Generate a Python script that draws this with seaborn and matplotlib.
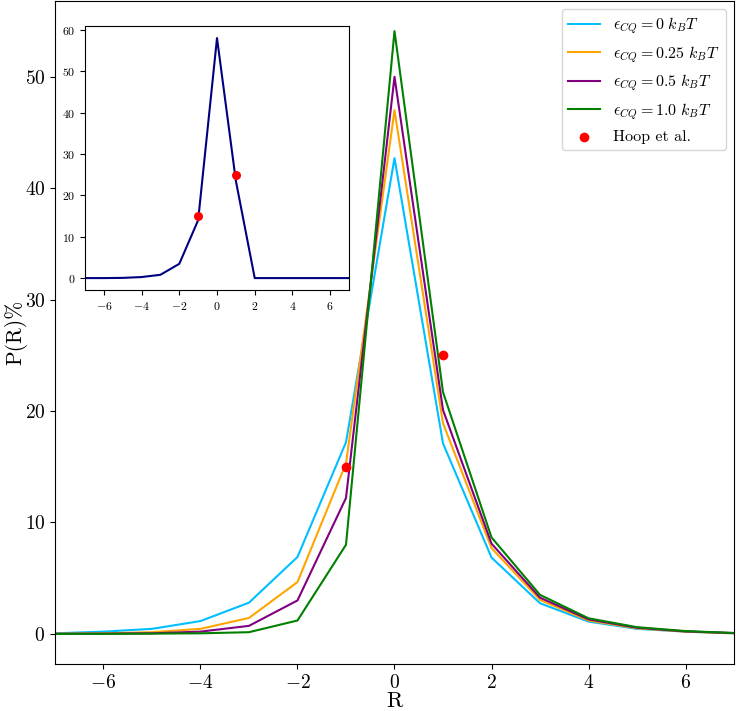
import numpy as np
import pandas as pd
import seaborn as sns
import matplotlib.pyplot as plt

# data
R = [-7, -6, -5, -4, -3, -2, -1, 0, 1, 2, 3, 4, 5, 6, 7]

p_eps0 = [0.05, 0.2, 0.45, 1.15, 2.8, 6.9, 17.2, 42.7, 17.1, 6.85, 2.75, 1.1, 0.45, 0.2, 0.05]
p_eps025 = [0.02, 0.05, 0.15, 0.45, 1.43, 4.65, 15.3, 47.0, 18.9, 7.7, 3.05, 1.2, 0.5, 0.2, 0.05]
p_eps05 = [0.0, 0.02, 0.05, 0.2, 0.72, 3.0, 12.2, 50.0, 20.1, 8.1, 3.25, 1.3, 0.55, 0.22, 0.07]
p_eps1 = [0.0, 0.0, 0.02, 0.05, 0.15, 1.2, 8.0, 54.1, 21.7, 8.66, 3.5, 1.4, 0.6, 0.25, 0.08]

eps_labels = [r'$\epsilon_{CQ} = 0\ k_BT$', r'$\epsilon_{CQ} = 0.25\ k_BT$',
              r'$\epsilon_{CQ} = 0.5\ k_BT$', r'$\epsilon_{CQ} = 1.0\ k_BT$']
colors = ['deepskyblue', 'orange', 'purple', 'green']

# inset curve
p_inset = [0.0, 0.0, 0.05, 0.25, 0.8, 3.45, 14.0, 58.0, 23.5, 0.0, 0.0, 0.0, 0.0, 0.0, 0.0]

# Hoop et al. points
hoop_R = [-1, 1]
hoop_P = [15, 25]

plt.rcParams['mathtext.fontset'] = 'cm'
plt.rcParams['font.family'] = 'serif'
plt.rcParams['font.serif'] = ['cmr10', 'DejaVu Serif']
plt.rcParams['axes.formatter.use_mathtext'] = True
plt.rcParams['axes.unicode_minus'] = True

rows = []
for lab, vals in zip(eps_labels, [p_eps0, p_eps025, p_eps05, p_eps1]):
    for r, v in zip(R, vals):
        rows.append({'R': r, 'P': v, 'eps': lab})
df = pd.DataFrame(rows)

fig = plt.figure(figsize=(7.36, 7.11), dpi=100)
ax = fig.add_axes([0.0747, 0.0661, 0.9226, 0.9325])

sns.lineplot(data=df, x='R', y='P', hue='eps', hue_order=eps_labels,
             palette=colors, linewidth=1.5, ax=ax)
ax.scatter(hoop_R, hoop_P, color='red', s=36, zorder=5, label='Hoop et al.')
ax.set_xlim(-7, 7)
ax.set_xlabel('R', fontsize=16, labelpad=0)
ax.set_ylabel('P(R)%', fontsize=15.5)
ax.yaxis.set_label_coords(-0.04, 0.5)
ax.tick_params(labelsize=14)

handles, labels = ax.get_legend_handles_labels()
ax.legend(handles, labels, loc='upper right', fontsize=11.5)

# inset
axin = fig.add_axes([0.1155, 0.592, 0.3587, 0.3713])
sns.lineplot(x=R, y=p_inset, color='navy', linewidth=1.5, ax=axin)
axin.scatter(hoop_R, hoop_P, color='red', s=30, zorder=5)
axin.set_xlim(-7, 7)
axin.set_xticks([-6, -4, -2, 0, 2, 4, 6])
axin.set_yticks([0, 10, 20, 30, 40, 50, 60])
axin.tick_params(labelsize=8.5)

fig.savefig('out.png', dpi=100)
